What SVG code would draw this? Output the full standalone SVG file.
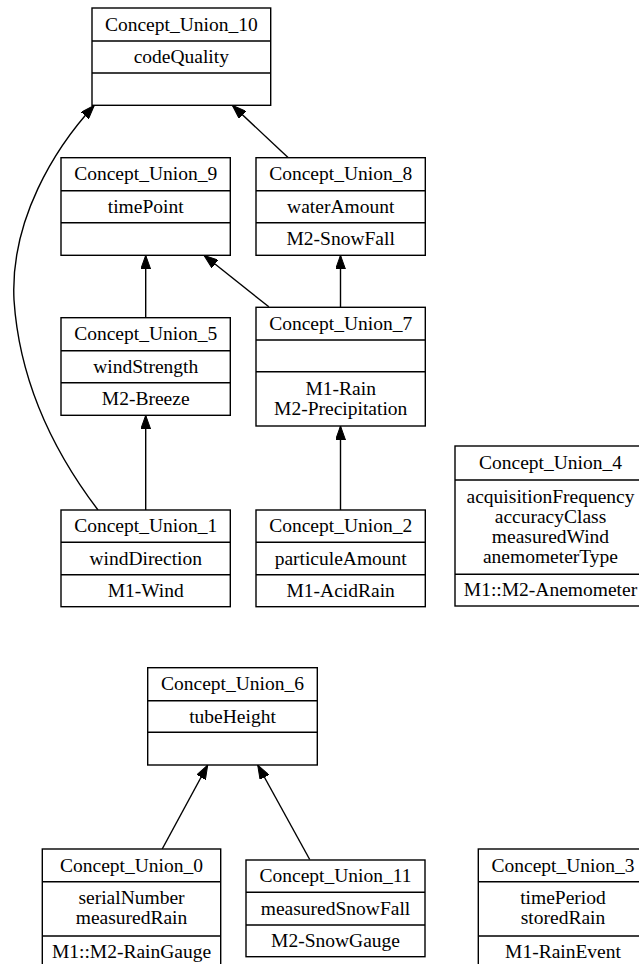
<svg xmlns="http://www.w3.org/2000/svg" width="639" height="964" viewBox="0 0 639 964">
<style>
  .box { fill: #ffffff; stroke: #000000; stroke-width: 1.4; }
  .div { stroke: #000000; stroke-width: 1.4; fill: none; }
  text { font-family: "Liberation Serif", "Times New Roman", serif; font-size: 19.5px; text-anchor: middle; fill: #000000; }
  .edge { fill: none; stroke: #000000; stroke-width: 1.4; marker-end: url(#arrow); }
</style>
<defs>
  <marker id="arrow" viewBox="0 0 14 10" markerWidth="14" markerHeight="10" refX="14" refY="5" orient="auto" markerUnits="userSpaceOnUse">
    <path d="M0,0 L14,5 L0,10 Z" fill="#000000" stroke="#000000" stroke-width="1"/>
  </marker>
</defs>
<rect width="639" height="964" fill="#ffffff"/>

<g id="edges">
  <path class="edge" d="M98,510 C60,460 20,390 14,300 C10,220 55,148 94.3,105.3"/>
  <path class="edge" d="M288.3,157.7 L232.3,105.3"/>
  <path class="edge" d="M145.7,317.7 L145.7,255.3"/>
  <path class="edge" d="M268.8,306.8 L204,255.3"/>
  <path class="edge" d="M340.5,307.3 L340.5,255.3"/>
  <path class="edge" d="M145.7,510 L145.7,415.3"/>
  <path class="edge" d="M340.5,510 L340.5,426"/>
  <path class="edge" d="M162.2,849 L207.7,765"/>
  <path class="edge" d="M309.7,859.5 L257.7,765"/>
</g>

<g id="Concept_Union_10">
  <rect class="box" x="92" y="8" width="178.7" height="97.3"/>
  <path class="div" d="M92,41 H270.7 M92,73 H270.7"/>
  <text x="181.3" y="30.7">Concept_Union_10</text>
  <text x="181.3" y="63">codeQuality</text>
</g>

<g id="Concept_Union_9">
  <rect class="box" x="61" y="157.7" width="169.3" height="97.6"/>
  <path class="div" d="M61,190.7 H230.3 M61,222.7 H230.3"/>
  <text x="145.7" y="180.4">Concept_Union_9</text>
  <text x="145.7" y="212.7">timePoint</text>
</g>

<g id="Concept_Union_8">
  <rect class="box" x="256" y="157.7" width="169.3" height="97.6"/>
  <path class="div" d="M256,190.7 H425.3 M256,222.7 H425.3"/>
  <text x="340.7" y="180.4">Concept_Union_8</text>
  <text x="340.7" y="212.7">waterAmount</text>
  <text x="340.7" y="245">M2-SnowFall</text>
</g>

<g id="Concept_Union_5">
  <rect class="box" x="61" y="317.7" width="169.3" height="97.6"/>
  <path class="div" d="M61,350.7 H230.3 M61,382.7 H230.3"/>
  <text x="145.7" y="340.4">Concept_Union_5</text>
  <text x="145.7" y="372.7">windStrength</text>
  <text x="145.7" y="405">M2-Breeze</text>
</g>

<g id="Concept_Union_7">
  <rect class="box" x="256" y="307.3" width="169.3" height="118.7"/>
  <path class="div" d="M256,340 H425.3 M256,371.7 H425.3"/>
  <text x="340.7" y="330">Concept_Union_7</text>
  <text x="340.7" y="394.6">M1-Rain</text>
  <text x="340.7" y="415">M2-Precipitation</text>
</g>

<g id="Concept_Union_1">
  <rect class="box" x="61" y="510" width="169.3" height="96.7"/>
  <path class="div" d="M61,542.3 H230.3 M61,574.7 H230.3"/>
  <text x="145.7" y="532.4">Concept_Union_1</text>
  <text x="145.7" y="564.7">windDirection</text>
  <text x="145.7" y="596.9">M1-Wind</text>
</g>

<g id="Concept_Union_2">
  <rect class="box" x="256" y="510" width="169.3" height="96.7"/>
  <path class="div" d="M256,542.3 H425.3 M256,574.7 H425.3"/>
  <text x="340.7" y="532.4">Concept_Union_2</text>
  <text x="340.7" y="564.7">particuleAmount</text>
  <text x="340.7" y="596.9">M1-AcidRain</text>
</g>

<g id="Concept_Union_4">
  <rect class="box" x="455" y="446" width="191" height="160"/>
  <path class="div" d="M455,480 H646 M455,574.3 H646"/>
  <text x="550.5" y="469.3">Concept_Union_4</text>
  <text x="550.5" y="503">acquisitionFrequency</text>
  <text x="550.5" y="523">accuracyClass</text>
  <text x="550.5" y="543">measuredWind</text>
  <text x="550.5" y="563">anemometerType</text>
  <text x="550.5" y="596.4">M1::M2-Anemometer</text>
</g>

<g id="Concept_Union_6">
  <rect class="box" x="147.7" y="667.7" width="169.6" height="97.3"/>
  <path class="div" d="M147.7,700.7 H317.3 M147.7,732.3 H317.3"/>
  <text x="232.5" y="690.4">Concept_Union_6</text>
  <text x="232.5" y="722.5">tubeHeight</text>
</g>

<g id="Concept_Union_0">
  <rect class="box" x="42.3" y="849" width="178.4" height="119.5"/>
  <path class="div" d="M42.3,881.7 H220.7 M42.3,936 H220.7"/>
  <text x="131.5" y="871.6">Concept_Union_0</text>
  <text x="131.5" y="904">serialNumber</text>
  <text x="131.5" y="924">measuredRain</text>
  <text x="131.5" y="958.3">M1::M2-RainGauge</text>
</g>

<g id="Concept_Union_11">
  <rect class="box" x="246" y="860" width="179" height="96.7"/>
  <path class="div" d="M246,892.3 H425 M246,925 H425"/>
  <text x="335.5" y="882.4">Concept_Union_11</text>
  <text x="335.5" y="914.8">measuredSnowFall</text>
  <text x="335.5" y="947">M2-SnowGauge</text>
</g>

<g id="Concept_Union_3">
  <rect class="box" x="478.3" y="849" width="169.7" height="119.5"/>
  <path class="div" d="M478.3,881.7 H648 M478.3,936 H648"/>
  <text x="563" y="871.6">Concept_Union_3</text>
  <text x="563" y="904">timePeriod</text>
  <text x="563" y="924">storedRain</text>
  <text x="563" y="958.3">M1-RainEvent</text>
</g>
</svg>
